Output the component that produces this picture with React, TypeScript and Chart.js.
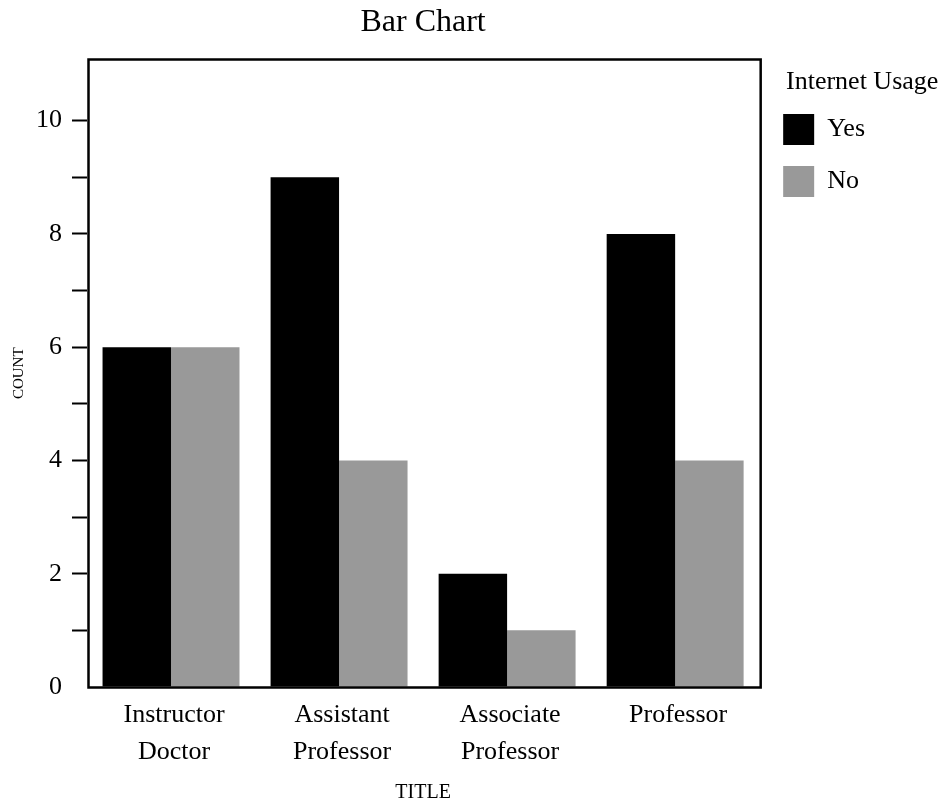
import React, { useEffect, useRef } from "react";
import { Chart, registerables } from "chart.js";

Chart.register(...registerables);

const categories: string[][] = [
  ["Instructor", "Doctor"],
  ["Assistant", "Professor"],
  ["Associate", "Professor"],
  ["Professor"],
];
const yesValues = [6, 9, 2, 8];
const noValues = [6, 4, 1, 4];
const seriesNames = ["Yes", "No"];
const yTicks = [0, 1, 2, 3, 4, 5, 6, 7, 8, 9, 10];
const yTickLabels = ["0", "", "2", "", "4", "", "6", "", "8", "", "10"];

const FONT = "'Liberation Serif', 'Times New Roman', serif";

const framePlugin = {
  id: "frame",
  afterLayout(chart: any) {
    const lg = chart.legend;
    if (lg) {
      lg.left = chart.chartArea.right + 3;
      lg.width = 200;
      lg.right = lg.left + lg.width;
    }
  },
  afterDatasetsDraw(chart: any) {
    const { ctx, chartArea } = chart;
    ctx.save();
    ctx.strokeStyle = "#000";
    ctx.lineWidth = 2.5;
    const l = chartArea.left + 1.5;
    const t = chartArea.top;
    const r = chartArea.right + 1.5;
    const b = chartArea.bottom + 0.5;
    ctx.strokeRect(l, t, r - l, b - t);
    ctx.restore();
  },
};

export default function App() {
  const ref = useRef<HTMLCanvasElement | null>(null);
  useEffect(() => {
    if (!ref.current) return;
    Chart.defaults.color = "#000";
    Chart.defaults.font.family = FONT;
    const chart = new Chart(ref.current, {
      type: "bar",
      data: {
        labels: categories,
        datasets: [
          {
            label: seriesNames[0],
            data: yesValues,
            backgroundColor: "#000000",
            borderWidth: 0,
            barPercentage: 1,
            categoryPercentage: 0.815,
          },
          {
            label: seriesNames[1],
            data: noValues,
            backgroundColor: "#999999",
            borderWidth: 0,
            barPercentage: 1,
            categoryPercentage: 0.815,
          },
        ],
      },
      options: {
        responsive: false,
        animation: false,
        layout: { padding: { left: 0, right: 72, top: 0, bottom: 0 } },
        plugins: {
          tooltip: { enabled: false },
          title: {
            display: true,
            text: "Bar Chart",
            fullSize: false,
            font: { family: FONT, size: 32, weight: "normal", lineHeight: 1.2 },
            padding: { top: 3, bottom: 18.1 },
            color: "#000",
          },
          legend: {
            display: true,
            position: "right",
            align: "start",
            fullSize: false,
            title: {
              display: true,
              text: "Internet Usage",
              position: "center",
              font: { family: FONT, size: 26, lineHeight: 1 },
              padding: { top: 9.5, bottom: -2 },
              color: "#000",
            },
            labels: {
              boxWidth: 31,
              boxHeight: 31,
              padding: 21,
              font: { family: FONT, size: 26 },
              color: "#000",
            },
          },
        },
        scales: {
          x: {
            grid: { display: false, drawTicks: false },
            border: { display: false },
            ticks: {
              autoSkip: false,
              maxRotation: 0,
              minRotation: 0,
              padding: 9.5,
              labelOffset: 3,
              font: { family: FONT, size: 26, lineHeight: 1.423 },
              color: "#000",
            },
            title: {
              display: true,
              text: "TITLE",
              font: { family: FONT, size: 20, lineHeight: 1.2 },
              padding: { top: 0, bottom: 0 },
              color: "#000",
            },
            afterFit(scale: any) {
              scale.height = 118;
            },
          },
          y: {
            min: 0,
            max: 11.08,
            grid: {
              display: true,
              drawOnChartArea: false,
              drawTicks: true,
              tickLength: 15,
              tickWidth: 2,
              tickColor: (c: any) => (c.tick && c.tick.value === 0 ? "rgba(0,0,0,0)" : "#000"),
            },
            border: { display: false },
            afterBuildTicks(scale: any) {
              scale.ticks = yTicks.map((v) => ({ value: v }));
            },
            ticks: {
              padding: 10,
              font: { family: FONT, size: 26 },
              color: "#000",
              callback: (_v: any, i: number) => yTickLabels[i],
            },
            title: {
              display: true,
              text: "COUNT",
              font: { family: FONT, size: 15, lineHeight: 1.2 },
              padding: { top: 10, bottom: 0 },
              color: "#000",
            },
            afterFit(scale: any) {
              scale.width = 87;
            },
          },
        },
      },
      plugins: [framePlugin],
    });
    return () => chart.destroy();
  }, []);
  return (
    <div style={{ position: "absolute", left: 0, top: 0, width: 944, height: 805, background: "#fff" }}>
      <canvas ref={ref} width={944} height={805} style={{ display: "block" }} />
    </div>
  );
}
